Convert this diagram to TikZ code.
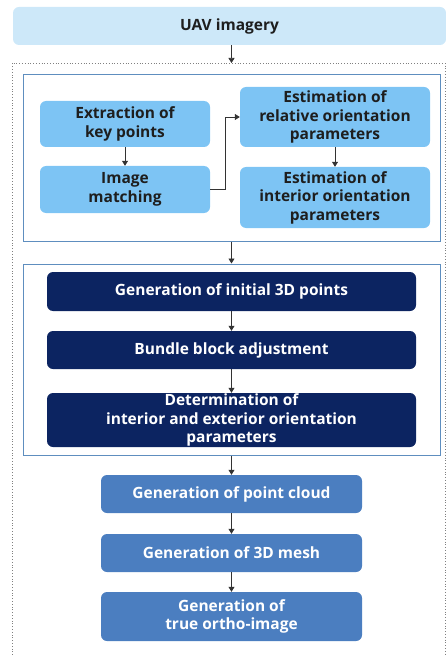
\documentclass[tikz,border=0pt]{standalone}
\usepackage{fontspec}
\setmainfont{Open Sans}[BoldFont={* Bold}]
\usepackage{xcolor}
\usepackage{tikz}
\usetikzlibrary{positioning}
\usetikzlibrary{arrows.meta}

\definecolor{uavblue}{HTML}{CDE8F9}
\definecolor{skyblue}{HTML}{7DC4F4}
\definecolor{navyblue}{HTML}{0C2461}
\definecolor{midblue}{HTML}{4B7EC0}
\definecolor{frameblue}{HTML}{5E8EBF}
\definecolor{textdark}{HTML}{1E1E1E}

\begin{document}
\begin{tikzpicture}[x=1pt, y=-1pt,
      font=\fontsize{15.5}{18.5}\selectfont\bfseries,
      base style/.style={rectangle,rounded corners=6pt,align=center,
        inner sep=0pt},
      input style/.style={base style,fill=uavblue,text=textdark},
      sky style/.style={base style,fill=skyblue,text=textdark},
      navy style/.style={base style,fill=navyblue,text=white},
      mid style/.style={base style,fill=midblue,text=white},
      group style/.style={rectangle,draw=frameblue,line width=1pt,
        inner sep=0pt},
      flow/.style={draw=black!80,line width=0.7pt,
        -{Triangle[length=5pt,width=6pt]}}
      ]
      \useasboundingbox (0,0) rectangle (446,655);

      % outer dotted frame
      \draw[gray,dotted,line width=0.8pt] (12,655) -- (12,63) -- (445,63) -- (445,655);
      \coordinate (frametop) at (231.5,63);

      \node[input style, minimum width=433pt, minimum height=38pt] (uav) at (229.5,26) {UAV imagery};
      \draw[flow] (uav.south -| frametop) -- (frametop);

      % first block
      \node[group style, minimum width=417pt, minimum height=166pt] (grpone) at (231.5,158) {};
      \node[sky style, minimum width=170pt, minimum height=46pt] (extract) at (125,124) {Extraction of\\key points};
      \node[sky style, minimum width=170pt, minimum height=47pt] (matching) at (125,189.5) {Image\\matching};
      \node[sky style, minimum width=190pt, minimum height=60pt] (relori) at (335,117) {Estimation of\\relative orientation\\parameters};
      \node[sky style, minimum width=190pt, minimum height=61pt] (intori) at (335,197.5) {Estimation of\\interior orientation\\parameters};

      \draw[flow] (extract) -- (matching);
      \draw[flow] (matching.east) -- ++(15,0) |- (relori.west);
      \draw[flow] (relori) -- (intori);

      % second block
      \node[group style, minimum width=417pt, minimum height=191pt] (grptwo) at (231.5,359.5) {};
      \draw[flow] (grpone) -- (grptwo);

      \node[navy style, minimum width=369pt, minimum height=39pt] (initpts) at (231.5,291.5) {Generation of initial 3D points};
      \node[navy style, minimum width=369pt, minimum height=38pt] (bundle) at (231.5,350) {Bundle block adjustment};
      \node[navy style, minimum width=369pt, minimum height=54pt] (determ) at (231.5,420) {Determination of\\interior and exterior orientation\\parameters};

      \draw[flow] (initpts) -- (bundle);
      \draw[flow] (bundle) -- (determ);

      % products
      \node[mid style, minimum width=261pt, minimum height=38pt] (cloud) at (231.5,494) {Generation of point cloud};
      \node[mid style, minimum width=261pt, minimum height=38pt] (mesh) at (231.5,553) {Generation of 3D mesh};
      \node[mid style, minimum width=261pt, minimum height=49pt] (ortho) at (231.5,616.5) {Generation of\\true ortho-image};

      \draw[flow] (grptwo) -- (cloud);
      \draw[flow] (cloud) -- (mesh);
      \draw[flow] (mesh) -- (ortho);

    \end{tikzpicture}
\end{document}
